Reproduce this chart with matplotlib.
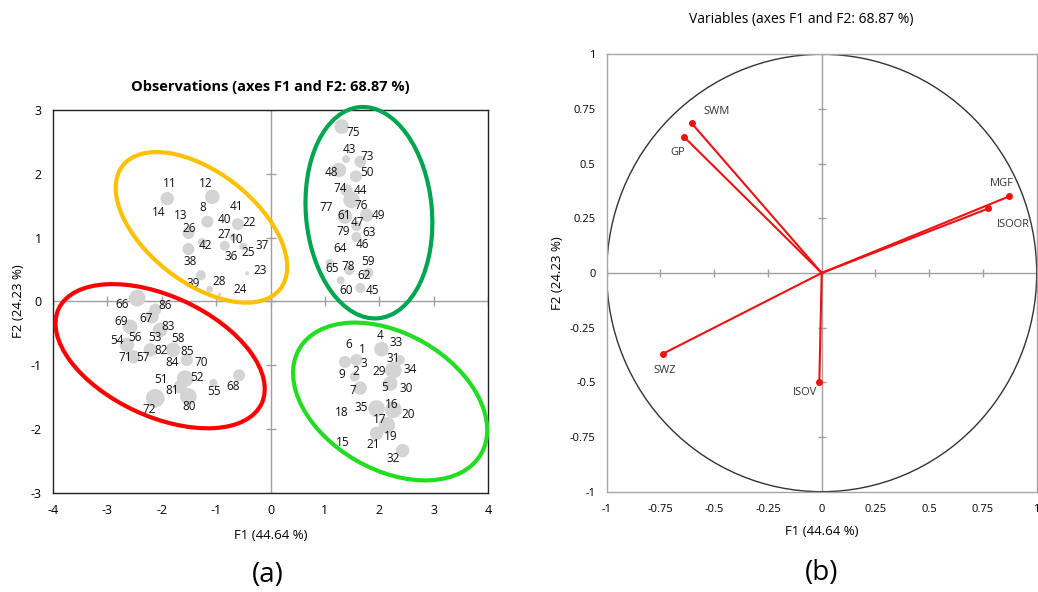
import numpy as np
import matplotlib
matplotlib.use('Agg')
import matplotlib.pyplot as plt
from matplotlib.patches import Ellipse, Circle
import matplotlib.transforms as mtransforms

plt.rcParams['font.family'] = ['Open Sans', 'DejaVu Sans']
plt.rcParams['axes.unicode_minus'] = False

obs_id = [11, 12, 14, 8, 41, 13, 26, 40, 22, 27, 10, 42, 37, 36, 25, 38, 23, 39, 28, 24,
          75, 43, 73, 48, 50, 74, 44, 76, 77, 61, 49, 47, 63, 79, 46, 64, 59, 65, 78, 62, 60, 45,
          66, 86, 69, 67, 83, 54, 56, 53, 58, 82, 85, 71, 57, 84, 70, 51, 52, 81, 55, 68, 80, 72,
          4, 33, 6, 1, 31, 3, 34, 9, 2, 29, 7, 5, 30, 16, 35, 18, 20, 17, 19, 15, 21, 32]
obs_f1 = [-1.86, -1.20, -2.06, -1.25, -0.62, -1.66, -1.50, -0.85, -0.40, -0.85, -0.62, -1.20, -0.16,
          -0.72, -0.41, -1.47, -0.19, -1.42, -0.95, -0.56,
          1.53, 1.45, 1.77, 1.12, 1.78, 1.28, 1.65, 1.66, 1.03, 1.35, 1.98, 1.59, 1.81, 1.33, 1.69,
          1.28, 1.80, 1.14, 1.43, 1.73, 1.39, 1.87,
          -2.72, -1.94, -2.74, -2.28, -1.88, -2.83, -2.50, -2.12, -1.71, -2.02, -1.53, -2.67, -2.34,
          -1.80, -1.28, -2.01, -1.35, -1.80, -1.04, -0.68, -1.50, -2.23,
          2.01, 2.31, 1.44, 1.68, 2.26, 1.72, 2.56, 1.31, 1.57, 2.00, 1.52, 2.10, 2.50, 2.23, 1.66,
          1.31, 2.53, 2.00, 2.21, 1.33, 1.89, 2.26]
obs_f2 = [1.84, 1.84, 1.39, 1.47, 1.49, 1.34, 1.14, 1.29, 1.24, 1.05, 0.97, 0.87, 0.87, 0.70, 0.76,
          0.63, 0.49, 0.28, 0.31, 0.18,
          2.64, 2.38, 2.27, 2.02, 2.02, 1.77, 1.74, 1.51, 1.47, 1.35, 1.35, 1.23, 1.08, 1.09, 0.89,
          0.83, 0.63, 0.51, 0.54, 0.41, 0.17, 0.17,
          -0.05, -0.06, -0.32, -0.27, -0.39, -0.61, -0.57, -0.56, -0.59, -0.77, -0.78, -0.88, -0.88,
          -0.96, -0.96, -1.23, -1.20, -1.39, -1.41, -1.34, -1.65, -1.70,
          -0.54, -0.65, -0.67, -0.76, -0.90, -0.97, -1.07, -1.14, -1.10, -1.10, -1.39, -1.35, -1.36,
          -1.61, -1.66, -1.74, -1.78, -1.85, -2.12, -2.22, -2.24, -2.47]

# grey bubbles: centre (F1, F2) and radius weight
bub_f1 = [-1.90, -1.07, -1.16, -0.60, -1.51, -1.26, -0.84, -0.50, -0.68, -1.51, -1.28, -1.12, -0.43, -0.94,
          1.31, 1.39, 1.65, 1.26, 1.57, 1.40, 1.49, 1.37, 1.77, 1.58, 1.58, 1.09, 1.45, 1.80, 1.29, 1.65,
          -2.45, -2.12, -2.18, -2.58, -2.03, -2.64, -2.52, -2.21, -1.79, -1.54, -1.57, -1.66, -1.51, -2.12,
          -1.05, -0.58,
          2.04, 1.37, 1.58, 2.26, 1.55, 1.65, 2.20, 1.95, 2.26, 2.14, 1.95, 2.43, 2.38]
bub_f2 = [1.61, 1.64, 1.25, 1.21, 1.07, 0.93, 0.87, 0.86, 1.01, 0.82, 0.41, 0.19, 0.44, 0.11,
          2.74, 2.23, 2.19, 2.06, 1.96, 1.74, 1.59, 1.33, 1.35, 1.18, 1.01, 0.60, 0.49, 0.45, 0.33, 0.21,
          0.05, -0.13, -0.24, -0.40, -0.45, -0.68, -0.87, -0.76, -0.76, -0.92, -1.21, -1.34, -1.49, -1.52,
          -1.28, -1.16,
          -0.75, -0.95, -0.92, -1.08, -1.18, -1.36, -1.29, -1.68, -1.70, -1.94, -2.07, -2.34, -0.92]
bub_r = [6.7, 7.3, 6, 6, 6, 4, 5, 4, 4, 6, 5, 3.3, 2, 1.7,
         7.3, 4, 6, 7.3, 6, 6, 8.3, 7.3, 6.7, 5, 5, 4, 5, 5, 4, 5,
         8.3, 6, 6.7, 7.3, 7.3, 7.3, 6.7, 6.7, 7.3, 6, 8.3, 6.7, 8.3, 9.3, 4, 6,
         7.3, 6, 6, 8.3, 5, 6.7, 7.3, 8.3, 8.3, 8.3, 6.7, 6.7, 5]

# variables (correlation circle)
var_names = ['SWM', 'GP', 'MGF', 'ISOOR', 'SWZ', 'ISOV']
var_f1 = [-0.605, -0.639, 0.871, 0.775, -0.74, -0.011]
var_f2 = [0.685, 0.621, 0.35, 0.295, -0.37, -0.498]

W, H = 1038, 592
fig = plt.figure(figsize=(W / 100, H / 100), dpi=100)

# ---------------- (a) observations ----------------
ax1 = fig.add_axes([53 / W, 1 - 492.7 / H, 435 / W, 382.7 / H])
ax1.set_xlim(-4, 4)
ax1.set_ylim(-3, 3)
ax1.axhline(0, color='#a0a0a0', lw=1, zorder=0)
ax1.axvline(0, color='#a0a0a0', lw=1, zorder=0)
xt = np.arange(-4, 5)
yt = np.arange(-3, 4)
ax1.plot(xt, np.zeros_like(xt), ls='none', marker='|', ms=7, color='#a0a0a0', zorder=0)
ax1.plot(np.zeros_like(yt), yt, ls='none', marker='_', ms=7, color='#a0a0a0', zorder=0)
ax1.set_xticks(xt)
ax1.set_yticks(yt)
ax1.tick_params(length=0, labelsize=9)
ax1.tick_params(axis='x', pad=8)
ax1.tick_params(axis='y', pad=8)
for s in ax1.spines.values():
    s.set_color('#222222')
    s.set_linewidth(1)

sizes = (1.44 * np.array(bub_r)) ** 2
ax1.scatter(bub_f1, bub_f2, s=sizes, color='#d4d4d4', lw=0, zorder=1)
for i, x, y in zip(obs_id, obs_f1, obs_f2):
    ax1.text(x, y, str(i), fontsize=8.5, ha='center', va='center', color='#111111', zorder=3)

# hand drawn group ellipses: centre in data, size in inches
ell = [(-1.27, 1.16, 2.0, 1.1, -38, '#ffc000'),
       (1.81, 1.39, 1.26, 2.12, 5, '#00a550'),
       (-2.03, -0.86, 2.24, 1.2, -25, '#ff0000'),
       (2.20, -1.57, 2.1, 1.36, -30, '#22dd22')]
for cx, cy, w, h, ang, c in ell:
    tr = fig.dpi_scale_trans + mtransforms.ScaledTranslation(cx, cy, ax1.transData)
    ax1.add_patch(Ellipse((0, 0), w, h, angle=ang, transform=tr, fill=False,
                          ec=c, lw=3, zorder=4, clip_on=False))

ax1.set_xlabel('F1 (44.64 %)', fontsize=9.5, labelpad=9)
ax1.set_ylabel('F2 (24.23 %)', fontsize=9.5, labelpad=4)
fig.text(270.5 / W, 1 - 87 / H, 'Observations (axes F1 and F2: 68.87 %)',
         fontsize=10.5, fontweight='bold', ha='center', va='center')
fig.text(268 / W, 1 - 575 / H, '(a)', fontsize=20, ha='center', va='center')

# ---------------- (b) variables ----------------
ax2 = fig.add_axes([606.7 / W, 1 - 491.7 / H, 430 / W, 437.4 / H])
ax2.set_xlim(-1, 1)
ax2.set_ylim(-1, 1)
t2 = np.arange(-1, 1.01, 0.25)
t2_lab = ['-1', '-0.75', '-0.5', '-0.25', '0', '0.25', '0.5', '0.75', '1']
ax2.axhline(0, color='#a0a0a0', lw=1, zorder=0)
ax2.axvline(0, color='#a0a0a0', lw=1, zorder=0)
ax2.plot(t2, np.zeros_like(t2), ls='none', marker='|', ms=6, color='#a0a0a0', zorder=0)
ax2.plot(np.zeros_like(t2), t2, ls='none', marker='_', ms=6, color='#a0a0a0', zorder=0)
ax2.set_xticks(t2)
ax2.set_xticklabels(t2_lab)
ax2.set_yticks(t2)
ax2.set_yticklabels(t2_lab)
ax2.tick_params(length=0, labelsize=8)
ax2.tick_params(axis='x', pad=9)
ax2.tick_params(axis='y', pad=8)
for s in ax2.spines.values():
    s.set_color('#a6a6a6')
    s.set_linewidth(1)
ax2.add_patch(Circle((0, 0), 1, fill=False, ec='#333333', lw=1, zorder=1))

for n, x, y in zip(var_names, var_f1, var_f2):
    ax2.plot([0, x], [0, y], color='#ee1111', lw=1.5, zorder=2)
    ax2.plot(x, y, 'o', color='#ee1111', ms=4, zorder=3)

label_pos = {'SWM': (-0.49, 0.74), 'GP': (-0.67, 0.55), 'MGF': (0.84, 0.41),
             'ISOOR': (0.89, 0.22), 'SWZ': (-0.73, -0.445), 'ISOV': (-0.08, -0.547)}
for n in var_names:
    ax2.text(*label_pos[n], n, fontsize=8, ha='center', va='center', color='#333333')

ax2.set_xlabel('F1 (44.64 %)', fontsize=9.5, labelpad=7)
ax2.set_ylabel('F2 (24.23 %)', fontsize=9.5, labelpad=4)
fig.text(801 / W, 1 - 20 / H, 'Variables (axes F1 and F2: 68.87 %)',
         fontsize=10, ha='center', va='center')
fig.text(821.7 / W, 1 - 573 / H, '(b)', fontsize=20, ha='center', va='center')

fig.savefig('out.png', dpi=100)
